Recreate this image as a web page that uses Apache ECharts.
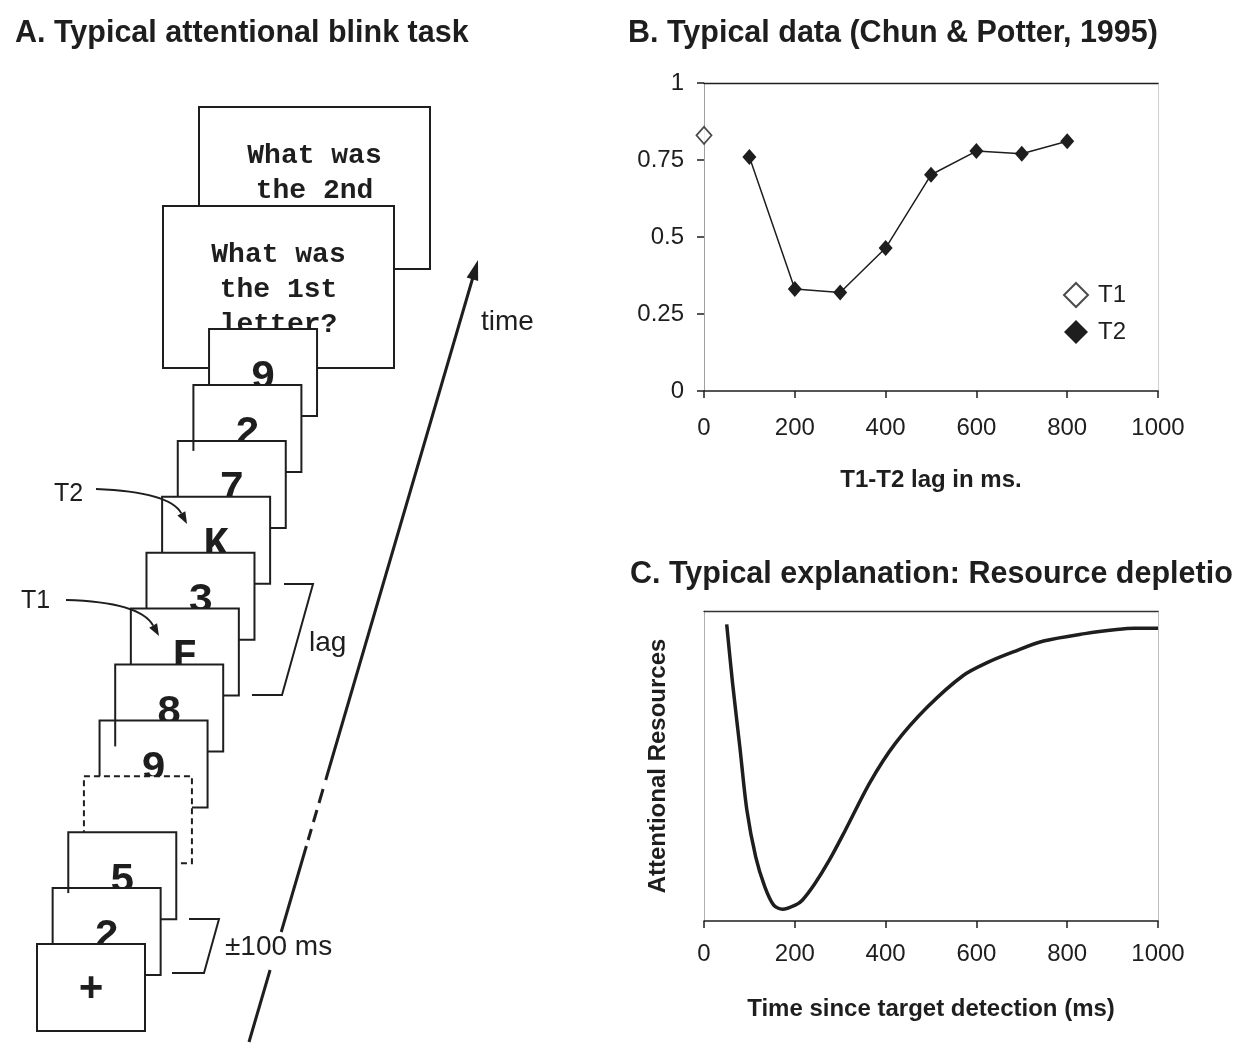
<!DOCTYPE html>
<html><head><meta charset="utf-8">
<script src="https://cdn.jsdelivr.net/npm/echarts@6/dist/echarts.min.js"></script>
<style>html,body{margin:0;padding:0;background:#fff;overflow:hidden}#chart{width:1234px;height:1049px}</style>
</head><body><div id="chart"></div>
<script>
// ---------- Panel B data (Chun & Potter, 1995) ----------
const lagMs = [100, 200, 300, 400, 500, 600, 700, 800];
const t2Accuracy = [0.76, 0.331, 0.32, 0.464, 0.702, 0.779, 0.77, 0.811];
const t1Lag = [0];
const t1Accuracy = [0.83];
// ---------- Panel C data (resource depletion curve) ----------
const timeMs = [50, 63, 79, 94.5, 114, 134, 153.5, 173, 201, 216.5, 244, 276, 311, 366, 421, 492, 571, 626, 681, 748, 839, 909, 949, 1000];
const resources = [0.957, 0.766, 0.561, 0.357, 0.206, 0.110, 0.051, 0.038, 0.051, 0.067, 0.120, 0.196, 0.292, 0.448, 0.572, 0.690, 0.792, 0.835, 0.868, 0.903, 0.927, 0.940, 0.944, 0.944];
// ---------- Axis ticks ----------
const xMin = 0, xMax = 1000, xStep = 200;
const yMinB = 0, yMaxB = 1, yStepB = 0.25;
// ---------- Panel A stimuli (first to last) ----------
const streamItems = ['+', '2', '5', '', '9', '8', 'F', '3', 'K', '7', '2', '9'];
const question1 = ['What was', 'the 1st', 'letter?'];
const question2 = ['What was', 'the 2nd', 'letter?'];
const titles = ['A. Typical attentional blink task', 'B. Typical data (Chun & Potter, 1995)', 'C. Typical explanation: Resource depletion'];

const INK = '#1e1e1e';
const SANS = '"Liberation Sans", Arial, Helvetica, sans-serif';
const MONO = '"Liberation Mono", "Courier New", monospace';

const els = [];
let zc = 1;
function rect(x, y, w, h, dashed) {
  els.push({type: 'rect', z: zc++, shape: {x: x, y: y, width: w, height: h},
    style: {fill: '#fff', stroke: INK, lineWidth: 2, lineDash: dashed ? [6, 4] : null}});
}
function text(t, x, y, font, align) {
  els.push({type: 'text', z: zc++, x: x, y: y,
    style: {text: t, font: font, fill: INK, align: align || 'center', verticalAlign: 'middle',
      textAlign: align || 'center', textVerticalAlign: 'middle'}});
}
function seg(x1, y1, x2, y2, w) {
  els.push({type: 'line', z: zc++, shape: {x1: x1, y1: y1, x2: x2, y2: y2}, style: {stroke: INK, lineWidth: w}});
}
function poly(points) {
  els.push({type: 'polyline', z: zc++, shape: {points: points}, style: {stroke: INK, lineWidth: 2, fill: null}});
}
function curveArrow(p0, cp, p2) {
  const dx = p2[0] - cp[0], dy = p2[1] - cp[1], L = Math.hypot(dx, dy);
  const ux = dx / L, uy = dy / L, len = 12, hw = 4.5;
  const b = [p2[0] - ux * len, p2[1] - uy * len];
  els.push({type: 'bezierCurve', z: zc++, shape: {x1: p0[0], y1: p0[1], x2: b[0], y2: b[1], cpx1: cp[0], cpy1: cp[1]},
    style: {stroke: INK, lineWidth: 1.8, fill: null}});
  els.push({type: 'polygon', z: zc++, shape: {points: [p2, [b[0] - uy * hw, b[1] + ux * hw], [b[0] + uy * hw, b[1] - ux * hw]]},
    style: {fill: INK}});
}

// titles
text(titles[0], 15, 34, 'bold 30.5px ' + SANS, 'left');
text(titles[1], 628, 34, 'bold 30.5px ' + SANS, 'left');
text(titles[2], 630, 575, 'bold 30.5px ' + SANS, 'left');

// question frames (back-most first)
const QW = 231, QH = 162;
rect(199, 107, QW, QH);
question2.forEach((s, k) => text(s, 199 + QW / 2, 107 + 49 + 35 * k, 'bold 28px ' + MONO));
rect(163, 206, QW, QH);
question1.forEach((s, k) => text(s, 163 + QW / 2, 206 + 49 + 35 * k, 'bold 28px ' + MONO));

// RSVP stream frames (last item at back, fixation '+' at front)
const FW = 108, FH = 87;
const fx = i => 37 + 15.64 * i, fy = i => 944 - 55.9 * i;
for (let i = streamItems.length - 1; i >= 0; i--) {
  rect(fx(i), fy(i), FW, FH, streamItems[i] === '');
  if (streamItems[i] !== '') text(streamItems[i], fx(i) + FW / 2, fy(i) + (i === 0 ? 46 : 49), 'bold 42px ' + MONO);
}
// small stray edge tails visible in the original drawing
seg(fx(5), fy(4), fx(5), fy(4) + 26, 2);
seg(fx(10), fy(9), fx(10), fy(9) + 10, 2);
seg(fx(2), fy(1), fx(2), fy(1) + 5, 2);

// T1 / T2 pointers
curveArrow([96, 489], [170, 492], [187, 524]);
text('T2', 54, 494, '25px ' + SANS, 'left');
curveArrow([66, 600], [140, 602], [159, 636]);
text('T1', 21, 601, '25px ' + SANS, 'left');

// brackets
poly([[284, 584], [313, 584], [282, 695], [252, 695]]);
text('lag', 309, 643, '28px ' + SANS, 'left');
poly([[189, 919], [219, 919], [204, 973], [172, 973]]);
text('\u00b1100 ms', 225, 947, '28px ' + SANS, 'left');

// time arrow
const tb = [249, 1042], tt = [478, 260];
const xAt = y => tb[0] + (tb[1] - y) * (tt[0] - tb[0]) / (tb[1] - tt[1]);
[[1042, 970], [932, 846], [840, 829], [822, 810], [803, 789], [780, 278]].forEach(s => seg(xAt(s[0]), s[0], xAt(s[1]), s[1], 3));
(function () {
  const dx = tt[0] - tb[0], dy = tt[1] - tb[1], L = Math.hypot(dx, dy), ux = dx / L, uy = dy / L;
  const b = [tt[0] - ux * 20, tt[1] - uy * 20], hw = 6;
  els.push({type: 'polygon', z: zc++, shape: {points: [tt, [b[0] - uy * hw, b[1] + ux * hw], [b[0] + uy * hw, b[1] - ux * hw]]}, style: {fill: INK}});
})();
text('time', 481, 322, '28px ' + SANS, 'left');

// ---------- axes helpers ----------
function bottomX(grid, name, margin, gap) {
  return {gridIndex: grid, type: 'value', min: xMin, max: xMax, interval: xStep, position: 'bottom',
    axisLine: {show: true, onZero: false, lineStyle: {color: INK, width: 1.5}},
    axisTick: {show: true, length: 7, inside: false, lineStyle: {color: INK, width: 1.5}},
    axisLabel: {show: true, fontSize: 24, color: INK, fontFamily: SANS, margin: margin, hideOverlap: false,
      showMinLabel: true, showMaxLabel: true, formatter: v => String(v)},
    splitLine: {show: false},
    name: name, nameLocation: 'middle', nameGap: gap,
    nameTextStyle: {fontSize: 24, fontWeight: 'bold', color: INK, fontFamily: SANS}};
}
function borderX(grid, color) {
  return {gridIndex: grid, type: 'value', min: xMin, max: xMax, position: 'top',
    axisLine: {show: true, onZero: false, lineStyle: {color: color, width: 1.3}},
    axisTick: {show: false}, axisLabel: {show: false}, splitLine: {show: false}};
}
function borderY(grid, color) {
  return {gridIndex: grid, type: 'value', min: 0, max: 1, position: 'right',
    axisLine: {show: true, onZero: false, lineStyle: {color: color, width: 1}},
    axisTick: {show: false}, axisLabel: {show: false}, splitLine: {show: false}};
}

const option = {
  backgroundColor: '#fff',
  animation: false,
  textStyle: {fontFamily: SANS},
  graphic: {elements: els},
  grid: [
    {left: 704, top: 83, width: 454, height: 308, containLabel: false, outerBoundsMode: 'none'},
    {left: 704, top: 611, width: 454, height: 310, containLabel: false, outerBoundsMode: 'none'}
  ],
  xAxis: [
    bottomX(0, 'T1-T2 lag in ms.', 25, 77),
    borderX(0, INK),
    bottomX(1, 'Time since target detection (ms)', 21, 76),
    borderX(1, '#333')
  ],
  yAxis: [
    {gridIndex: 0, type: 'value', min: yMinB, max: yMaxB, interval: yStepB, position: 'left',
      axisLine: {show: true, onZero: false, lineStyle: {color: '#a0a0a0', width: 1}},
      axisTick: {show: true, length: 7, lineStyle: {color: INK, width: 1.5}},
      axisLabel: {fontSize: 24, color: INK, fontFamily: SANS, margin: 20},
      splitLine: {show: false}},
    borderY(0, '#cfcfcf'),
    {gridIndex: 1, type: 'value', min: 0, max: 1, position: 'left',
      axisLine: {show: true, onZero: false, lineStyle: {color: '#b0b0b0', width: 1}},
      axisTick: {show: false}, axisLabel: {show: false}, splitLine: {show: false},
      name: 'Attentional Resources', nameLocation: 'middle', nameGap: 34, nameRotate: 90,
      nameTextStyle: {fontSize: 24, fontWeight: 'bold', color: INK, fontFamily: SANS}},
    borderY(1, '#bdbdbd')
  ],
  legend: {
    show: true, orient: 'vertical', left: 1058, top: 277, itemWidth: 24, itemHeight: 24, itemGap: 12,
    data: [{name: 'T1', icon: 'diamond'}, {name: 'T2', icon: 'diamond'}],
    textStyle: {fontSize: 24, color: INK, fontFamily: SANS, padding: [0, 0, 0, 5]},
    selectedMode: false
  },
  series: [
    {name: 'T1', type: 'scatter', xAxisIndex: 0, yAxisIndex: 0,
      data: t1Lag.map((x, i) => [x, t1Accuracy[i]]),
      symbol: 'diamond', symbolSize: [15, 17],
      itemStyle: {color: '#fff', borderColor: INK, borderWidth: 1.8}},
    {name: 'T2', type: 'line', xAxisIndex: 0, yAxisIndex: 0,
      data: lagMs.map((x, i) => [x, t2Accuracy[i]]),
      symbol: 'diamond', symbolSize: [14, 16], showSymbol: true,
      itemStyle: {color: INK, borderColor: INK, borderWidth: 0},
      lineStyle: {color: INK, width: 1.5}},
    {name: 'resources', type: 'line', xAxisIndex: 2, yAxisIndex: 2,
      data: timeMs.map((x, i) => [x, resources[i]]),
      showSymbol: false, symbol: 'none', smooth: 0.3,
      lineStyle: {color: INK, width: 3.5}}
  ]
};
const chart = echarts.init(document.getElementById('chart'), null, {renderer: 'canvas'});
chart.setOption(option);
</script></body></html>
